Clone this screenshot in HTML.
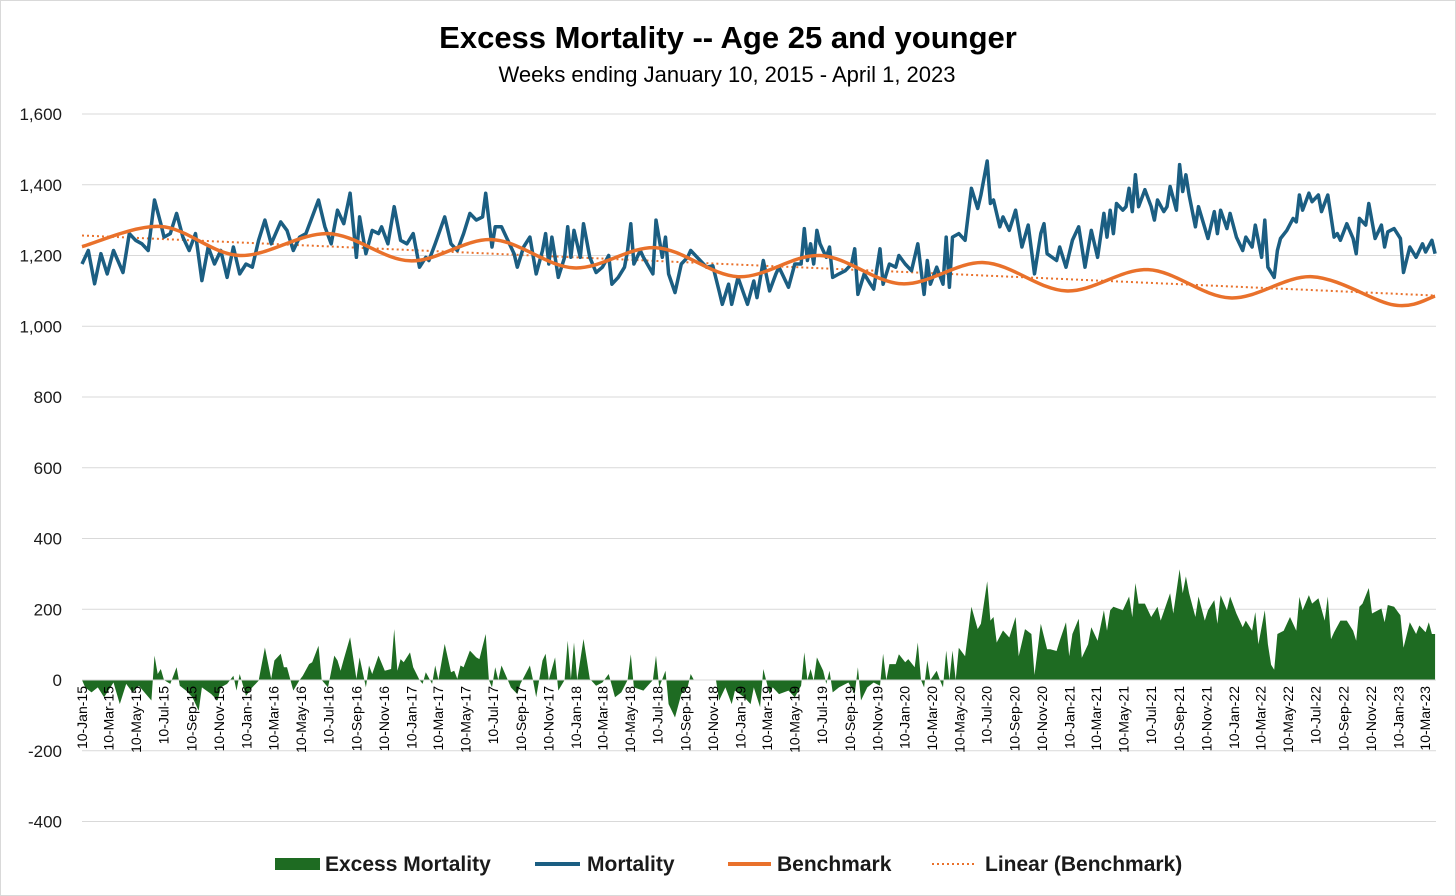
<!DOCTYPE html>
<html><head><meta charset="utf-8"><style>
html,body{margin:0;padding:0;background:#fff;}
svg{display:block;font-family:"Liberation Sans",sans-serif;}
</style></head><body>
<svg id="chart" width="1456" height="896" viewBox="0 0 1456 896">
<rect x="0.5" y="0.5" width="1455" height="895" fill="#fff" stroke="#d9d9d9"/>
<text x="728" y="48" text-anchor="middle" font-size="31" font-weight="bold" fill="#000">Excess Mortality -- Age 25 and younger</text>
<text x="727" y="82" text-anchor="middle" font-size="22" fill="#000">Weeks ending January 10, 2015 - April 1, 2023</text>
<g id="grid"></g>
<g id="yticks"></g>
<g id="excess"></g>
<line id="zero"></line>
<g id="xticks"></g>
<g id="lines"></g>
<g>
 <rect x="275" y="858" width="45" height="12" fill="#1e6b22"/>
 <text x="325" y="871" font-size="21" font-weight="bold" fill="#1a1a1a">Excess Mortality</text>
 <line x1="535" y1="864" x2="580" y2="864" stroke="#1b5e82" stroke-width="4"/>
 <text x="587" y="871" font-size="21" font-weight="bold" fill="#1a1a1a">Mortality</text>
 <line x1="728" y1="864" x2="771" y2="864" stroke="#e9712b" stroke-width="4"/>
 <text x="777" y="871" font-size="21" font-weight="bold" fill="#1a1a1a">Benchmark</text>
 <line x1="932" y1="864" x2="976" y2="864" stroke="#e9712b" stroke-width="2" stroke-dasharray="2,3"/>
 <text x="985" y="871" font-size="21" font-weight="bold" fill="#1a1a1a">Linear (Benchmark)</text>
</g>
</svg>
<script>
const yTicks=[-400,-200,0,200,400,600,800,1000,1200,1400,1600];
const xLabelMonths=["Jan","Mar","May","Jul","Sep","Nov"];
const mortWeeks=[0,2,4,6,8,10,13,15,17,19,21,23,25,26,28,30,32,34,36,38,40,42,44,46,48,50,52,54,56,58,60,63,65,67,69,71,73,75,77,79,81,83,85,87,88,90,92,94,95,97,99,101,103,105,107,109,
110,112,115,117,119,121,123,125,127,128,130,131,133,135,137,138,140,142,144,146,147,148,149,151,153,154,155,156,158,159,161,163,165,167,168,170,172,173,174,175,177,178,181,182,184,185,186,188,190,192,193,196,198,200,202,203,205,206,208,211,213,214,216,218,220,
221,222,224,226,228,229,230,231,232,233,234,236,237,238,240,242,244,245,246,248,250,251,253,254,256,258,259,261,263,265,267,268,269,271,273,274,275,276,278,280,282,284,285,287,288,289,291,292,294,296,298,300,302,304,305,306,309,310,312,314,316,318,320,322,324,325,
326,327,328,330,331,332,333,334,335,337,339,340,341,343,344,345,347,348,349,350,351,353,354,357,359,360,361,363,364,366,368,369,371,372,374,375,376,378,379,380,382,384,385,386,387,389,390,392,393,395,397,398,399,401,403,404,405,407,408,410,412,413,414,416,418,419,421,423,425,426,428,429];
const mortVals=[1176,1214,1120,1205,1148,1214,1152,1262,1243,1233,1214,1357,1290,1252,1262,1319,1252,1214,1262,1129,1224,1176,1214,1138,1224,1148,1176,1167,1243,1300,1233,1295,1271,1214,1252,1262,1309,1357,1281,1233,1328,1290,1376,1195,1309,1205,1271,1262,1281,1233,1338,1243,1233,1262,1167,1195,
1186,1233,1309,1233,1214,1262,1319,1300,1309,1376,1224,1281,1281,1243,1205,1167,1224,1252,1148,1214,1262,1176,1252,1138,1195,1281,1195,1271,1195,1290,1195,1152,1167,1200,1119,1138,1167,1214,1290,1176,1214,1195,1148,1300,1195,1252,1148,1095,1176,1195,1214,1186,1167,1171,1100,1062,1119,1062,1138,1062,1128,1081,1186,1100,1148,
1167,1148,1110,1176,1176,1276,1186,1233,1176,1271,1233,1195,1224,1138,1148,1157,1176,1219,1090,1148,1119,1105,1219,1119,1176,1167,1200,1176,1157,1233,1090,1186,1119,1167,1119,1252,1110,1252,1262,1243,1390,1333,1371,1467,1347,1357,1281,1309,1271,1328,1224,1286,1148,1262,1290,1205,1186,1224,1167,1243,1281,1167,1271,1195,1319,1252,
1328,1262,1347,1328,1338,1390,1324,1428,1338,1386,1338,1300,1357,1324,1338,1395,1328,1457,1381,1428,1371,1281,1338,1248,1324,1262,1328,1276,1319,1252,1214,1252,1224,1286,1195,1300,1167,1138,1214,1248,1271,1305,1295,1371,1328,1376,1352,1371,1324,1371,1252,1262,1243,1290,1248,1205,1305,1286,1347,1248,1286,1224,1267,1276,1248,1152,1224,1195,1233,1210,1243,1205];
const benchWeeks=[0,25,50,78,104,130,156,182,208,234,260,286,312,338,364,390,416,429];
const benchVals=[1225,1282,1200,1262,1185,1245,1165,1222,1140,1200,1120,1180,1100,1160,1080,1140,1060,1085];
const exWeeks=[0,1,3,5,7,9,10,12,14,16,18,22,23,24,25,26,28,30,31,33,35,37,38,41,43,44,46,48,49,50,52,54,56,58,60,61,63,64,65,67,69,70,72,73,75,76,78,80,81,82,83,85,87,88,90,91,92,94,96,98,99,100,101,102,104,105,107,108,109,111,112,113,115,117,118,119,120,121,123,125,126,128,129,130,131,132,133,135,136,138,
139,142,143,144,146,147,148,150,151,153,154,155,156,157,159,161,163,165,167,169,171,173,174,175,178,181,182,183,185,186,188,190,192,193,194,196,201,202,204,206,207,210,212,213,215,216,218,219,221,224,226,228,229,230,231,232,233,235,236,237,238,240,243,245,246,247,249,251,253,254,255,256,258,259,261,262,264,265,266,267,268,269,271,272,273,274,275,276,277,
278,280,282,284,285,287,288,289,290,292,294,296,297,299,301,302,304,306,307,309,310,312,313,314,316,317,319,320,322,324,325,326,327,330,332,333,334,335,337,339,341,342,345,346,348,349,350,351,353,354,356,357,359,360,361,363,364,366,368,369,371,372,373,375,376,377,378,379,381,383,385,386,387,389,390,392,394,395,396,397,399,401,403,404,405,406,408,409,412,413,414,416,418,419,421,423,424,426,427,428,429];
const exVals=[0,-21,-35,-21,-49,-21,-7,-68,-11,-35,-16,-58,69,17,31,0,-11,36,-16,-30,-49,-87,-21,-40,-58,-21,-11,12,-30,17,-45,-21,-2,92,3,55,74,36,36,-30,0,12,45,50,97,0,-21,69,55,26,59,121,3,64,-21,41,17,69,26,31,144,26,59,50,78,36,0,-11,22,-11,41,0,102,22,26,3,41,36,83,64,59,130,0,-21,36,0,41,0,-21,-40,
-11,41,0,-49,55,74,0,64,-30,0,111,3,106,0,116,3,-16,-7,17,-49,-35,0,73,-21,-30,0,69,-21,26,-68,-106,-40,-21,17,0,0,0,-58,-21,-68,-30,-49,-68,-21,-77,31,-40,-21,-40,-30,-49,-16,78,0,31,-2,64,26,-11,26,-35,-21,-7,-40,36,-58,-21,-7,-16,74,0,45,45,73,50,59,36,106,0,-21,55,0,26,0,-21,83,0,83,0,
91,67,207,144,159,279,168,178,106,140,120,178,67,144,130,14,159,87,87,82,111,163,67,130,173,63,101,149,111,197,139,197,207,197,236,178,274,216,216,178,207,168,245,188,313,245,293,245,178,236,168,197,226,159,240,197,236,188,149,168,139,192,101,197,101,43,29,130,139,178,139,235,197,240,216,231,168,236,115,135,168,168,139,111,207,216,260,188,202,163,212,207,183,91,163,130,154,135,163,130,130];

const NS="http://www.w3.org/2000/svg";
const X0=82,WK=3.154,Y0=680,PX=0.35375;
function xs(w){return X0+w*WK;}
function ys(v){return Y0-v*PX;}
function mk(tag,attrs,parent){const e=document.createElementNS(NS,tag);for(const k in attrs)e.setAttribute(k,attrs[k]);parent.appendChild(e);return e;}

const grid=document.getElementById('grid'),yt=document.getElementById('yticks');
yTicks.forEach(v=>{
  if(v!==0){const l=mk('line',{x1:X0,x2:1436,y1:ys(v),y2:ys(v),stroke:'#d9d9d9','stroke-width':1},grid);
  
  }
  const t=mk('text',{x:62,y:ys(v)+6,'text-anchor':'end','font-size':17,fill:'#1a1a1a'},yt);
  t.textContent=v.toLocaleString('en-US');
  
  
});
const z=document.getElementById('zero');
z.setAttribute('x1',X0);z.setAttribute('x2',1436);z.setAttribute('y1',ys(0));z.setAttribute('y2',ys(0));z.setAttribute('stroke','#d9d9d9');

let d='M'+xs(exWeeks[0])+','+ys(0);
exWeeks.forEach((w,i)=>{d+='L'+xs(w).toFixed(1)+','+ys(exVals[i]).toFixed(1);});
d+='L'+xs(exWeeks[exWeeks.length-1])+','+ys(0)+'Z';
const area=mk('path',{d:d,fill:'#1e6b22'},document.getElementById('excess'));



const xt=document.getElementById('xticks');
const start=Date.UTC(2015,0,10);
for(let y=2015;y<=2023;y++){for(let m=0;m<12;m+=2){
  const t0=Date.UTC(y,m,10); if(t0>Date.UTC(2023,2,10))break;
  const w=(t0-start)/(7*86400000);
  const x=xs(w)+5;
  const t=mk('text',{x:0,y:0,transform:'translate('+x.toFixed(1)+',686) rotate(-90)','text-anchor':'end','font-size':14,fill:'#000'},xt);
  t.textContent='10-'+xLabelMonths[m/2]+'-'+String(y).slice(2);
  
  
}}

const lines=document.getElementById('lines');
let n=benchWeeks.length,sx=0,sy=0,sxx=0,sxy=0;
benchWeeks.forEach((w,i)=>{sx+=w;sy+=benchVals[i];sxx+=w*w;sxy+=w*benchVals[i];});
const slope=(n*sxy-sx*sy)/(n*sxx-sx*sx),icpt=(sy-slope*sx)/n;
const wEnd=429;
const tr=mk('line',{x1:xs(0),y1:ys(icpt),x2:xs(wEnd),y2:ys(icpt+slope*wEnd),stroke:'#e9712b','stroke-width':2,'stroke-dasharray':'2,3'},lines);



let md='';
mortWeeks.forEach((w,i)=>{md+=(i?'L':'M')+xs(w).toFixed(1)+','+ys(mortVals[i]).toFixed(1);});
const ml=mk('path',{d:md,fill:'none',stroke:'#1b5e82','stroke-width':3.5,'stroke-linejoin':'round'},lines);



const P=benchWeeks.map((w,i)=>[xs(w),ys(benchVals[i])]);
let bd='M'+P[0][0]+','+P[0][1];
for(let i=0;i<P.length-1;i++){
  const p0=P[Math.max(0,i-1)],p1=P[i],p2=P[i+1],p3=P[Math.min(P.length-1,i+2)];
  const c1=[p1[0]+(p2[0]-p0[0])/6,p1[1]+(p2[1]-p0[1])/6];
  const c2=[p2[0]-(p3[0]-p1[0])/6,p2[1]-(p3[1]-p1[1])/6];
  bd+='C'+c1[0].toFixed(1)+','+c1[1].toFixed(1)+' '+c2[0].toFixed(1)+','+c2[1].toFixed(1)+' '+p2[0].toFixed(1)+','+p2[1].toFixed(1);
}
const bl=mk('path',{d:bd,fill:'none',stroke:'#e9712b','stroke-width':3.5},lines);


</script>
</body></html>
